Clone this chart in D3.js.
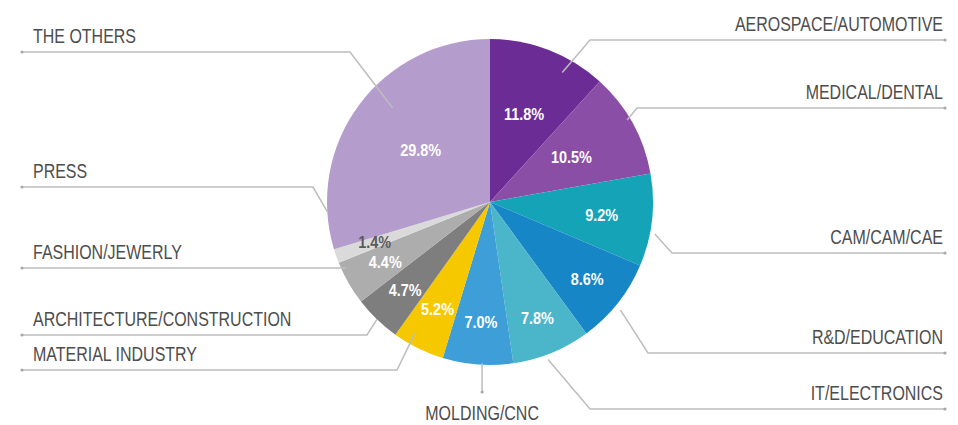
<!DOCTYPE html>
<html>
<head>
<meta charset="utf-8">
<script src="https://cdn.jsdelivr.net/npm/d3@7"></script>
<style>
  body { margin: 0; background: #fff; }
  svg { display: block; }
  .lbl { font-family: "Liberation Sans", Arial, sans-serif; font-size: 20.5px; fill: #4d4d4d; }
  .pct { font-family: "Liberation Sans", Arial, sans-serif; font-size: 17px; font-weight: bold; }
</style>
</head>
<body>
<div id="content"></div>
<script>
// data, clockwise from 12 o'clock
const categories = ['AEROSPACE/AUTOMOTIVE', 'MEDICAL/DENTAL', 'CAM/CAM/CAE', 'R&D/EDUCATION', 'IT/ELECTRONICS',
  'MOLDING/CNC', 'MATERIAL INDUSTRY', 'ARCHITECTURE/CONSTRUCTION', 'FASHION/JEWERLY', 'PRESS', 'THE OTHERS'];
const values = [11.8, 10.5, 9.2, 8.6, 7.8, 7.0, 5.2, 4.7, 4.4, 1.4, 29.8];
const colors = ['#6b2c96', '#8b4ea7', '#14a3b7', '#1786c6', '#4bb6c9', '#3e9fd8', '#f6c800', '#7e7e7e', '#adadad', '#dadada', '#b49ccc'];

// label layout: side, y of leader line, elbow x, end radius factor, end angle shift (deg), pct label radius factor
const side   = ['r', 'r', 'r', 'r', 'r', 'b', 'l', 'l', 'l', 'l', 'l'];
const lineY  = [40, 108, 253, 353, 409, 392, 370, 335, 268, 187, 52];
const elbowX = [590, 637, 672, 648, 590, null, 397, 367, null, 313, 350];
const endK   = [0.91, 0.98, 1.03, 1.04, 1.03, 0.99, 0.93, 1.0, 0.98, 1.0, 0.83];
const endRot = [8, -2, 4.5, 1.3, 2, -1.5, 3.6, 0, 5, 16, 7.4];
const pctK   = [0.58, 0.57, 0.69, 0.76, 0.77, 0.74, 0.73, 0.75, 0.74, 0.75, 0.53];

const width = 958, height = 425;
const cx = 490, cy = 202, R = 163;
const squeeze = 0.78; // condensed look for the labels

const svg = d3.select('#content').append('svg')
  .attr('width', width).attr('height', height);

const pie = d3.pie().sort(null).value(d => d)(values);
const arc = d3.arc().innerRadius(0).outerRadius(R);

const g = svg.append('g').attr('transform', 'translate(' + cx + ',' + cy + ')');

g.selectAll('path')
  .data(pie)
  .enter()
  .append('path')
  .attr('d', arc)
  .attr('fill', (d, i) => colors[i]);

function polar(a, r) {
  return [cx + r * Math.sin(a), cy - r * Math.cos(a)];
}

// leader lines + category labels
const lines = svg.append('g');
pie.forEach((d, i) => {
  const mid = (d.startAngle + d.endAngle) / 2 + endRot[i] * Math.PI / 180;
  const end = polar(mid, R * endK[i]);
  let pts;
  if (side[i] === 'b') {
    pts = [[end[0], end[1]], [end[0], lineY[i]]];
  } else {
    const ex = elbowX[i] === null ? end[0] : elbowX[i];
    const far = side[i] === 'r' ? 945 : 22;
    pts = [[far, lineY[i]], [ex, lineY[i]], end];
  }
  lines.append('path')
    .attr('d', d3.line()(pts))
    .attr('fill', 'none')
    .attr('stroke', '#bdbdbd')
    .attr('stroke-width', 1.5);
  const dot = side[i] === 'b' ? pts[1] : pts[0];
  lines.append('circle')
    .attr('cx', dot[0]).attr('cy', dot[1]).attr('r', 1.6)
    .attr('fill', '#a8a8a8');

  let x, y, anchor;
  if (side[i] === 'r') { x = 943; y = lineY[i] - 9; anchor = 'end'; }
  else if (side[i] === 'l') { x = 33; y = lineY[i] - 9; anchor = 'start'; }
  else { x = end[0]; y = lineY[i] + 28; anchor = 'middle'; }
  svg.append('text').attr('class', 'lbl')
    .attr('transform', 'translate(' + x + ',' + y + ') scale(' + squeeze + ',1)')
    .attr('text-anchor', anchor)
    .text(categories[i]);
});

// percentage labels
g.selectAll('text')
  .data(pie)
  .enter()
  .append('text')
  .attr('class', 'pct')
  .attr('transform', (d, i) => 'translate(' + d3.arc().innerRadius(R * pctK[i]).outerRadius(R * pctK[i]).centroid(d) + ') scale(0.85,1)')
  .attr('text-anchor', 'middle')
  .attr('dy', '0.35em')
  .attr('fill', (d, i) => i === 9 ? '#5a5a5a' : '#fff')
  .text(d => d.data.toFixed(1) + '%');
</script>
</body>
</html>
